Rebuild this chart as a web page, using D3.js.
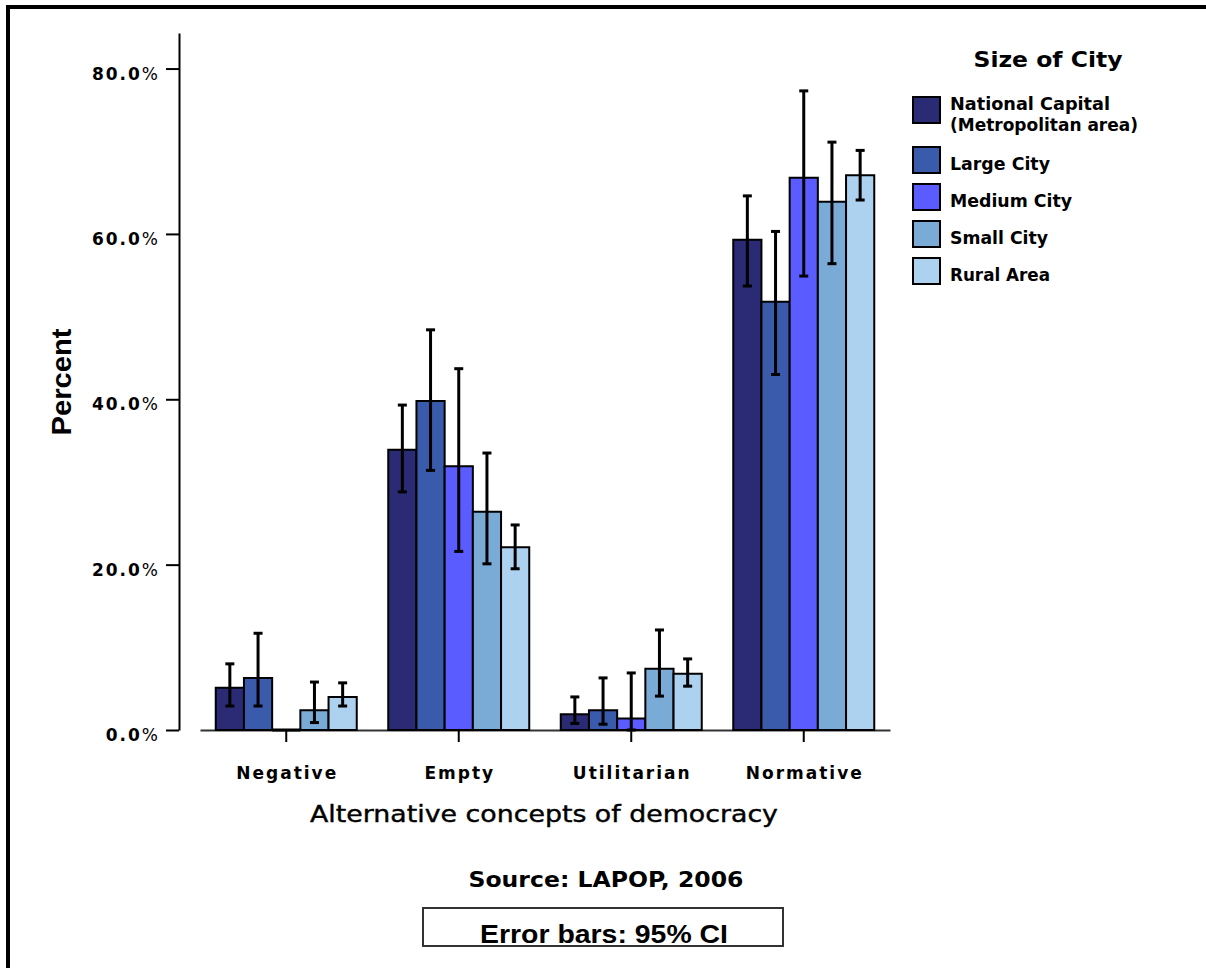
<!DOCTYPE html>
<html>
<head>
<meta charset="utf-8">
<script src="https://cdn.jsdelivr.net/npm/d3@7"></script>
<style>
  html, body { margin: 0; padding: 0; background: #ffffff; }
  svg { display: block; }
</style>
</head>
<body>
<svg id="chart" width="1206" height="968"></svg>
<script>
// Concepts of democracy by size of city (LAPOP 2006), percent with 95% CI
const categories = ["Negative", "Empty", "Utilitarian", "Normative"];
const seriesNames = ["National Capital (Metropolitan area)", "Large City", "Medium City", "Small City", "Rural Area"];
const seriesColors = ["#2b2a74", "#3a5aab", "#5b5cff", "#7aaad6", "#add2ef"];

const nationalCapital = [5.1, 33.9, 1.9, 59.3];
const largeCity       = [6.3, 39.8, 2.4, 51.8];
const mediumCity      = [0.0, 31.9, 1.4, 66.8];
const smallCity       = [2.4, 26.4, 7.4, 63.9];
const ruralArea       = [4.0, 22.1, 6.8, 67.1];

// 95% confidence interval bounds (null where no interval is shown)
const nationalCapitalLow  = [2.9, 28.8, 0.8, 53.7];
const nationalCapitalHigh = [8.0, 39.3, 4.0, 64.6];
const largeCityLow        = [2.9, 31.4, 0.7, 43.0];
const largeCityHigh       = [11.7, 48.4, 6.3, 60.3];
const mediumCityLow       = [null, 21.6, 0.0, 54.9];
const mediumCityHigh      = [null, 43.7, 6.9, 77.3];
const smallCityLow        = [0.9, 20.1, 4.1, 56.4];
const smallCityHigh       = [5.8, 33.5, 12.1, 71.1];
const ruralAreaLow        = [2.9, 19.5, 5.3, 64.1];
const ruralAreaHigh       = [5.7, 24.8, 8.6, 70.1];

const yTicks = [0, 20, 40, 60, 80];

const seriesValues = [nationalCapital, largeCity, mediumCity, smallCity, ruralArea];
const seriesLow = [nationalCapitalLow, largeCityLow, mediumCityLow, smallCityLow, ruralAreaLow];
const seriesHigh = [nationalCapitalHigh, largeCityHigh, mediumCityHigh, smallCityHigh, ruralAreaHigh];

const rows = [];
categories.forEach((c, ci) => {
  seriesNames.forEach((s, si) => {
    rows.push({
      category: c, series: s, si: si,
      value: seriesValues[si][ci],
      low: seriesLow[si][ci],
      high: seriesHigh[si][ci]
    });
  });
});

const svg = d3.select("#chart");
const WIDE = "'DejaVu Sans', Verdana, sans-serif";
const ARIAL = "'Liberation Sans', Arial, sans-serif";
const NARROW = "'Liberation Sans Narrow', 'Arial Narrow', 'DejaVu Sans Condensed', sans-serif";

// page frame (top and left rules)
svg.append("path")
  .attr("d", "M8,968 V7 H1206")
  .attr("fill", "none")
  .attr("stroke", "#000")
  .attr("stroke-width", 4);

// scales
const x0 = d3.scaleBand().domain(categories).range([200, 890]).paddingInner(0.1826).paddingOuter(0.0913);
const x1 = d3.scaleBand().domain(seriesNames).range([0, x0.bandwidth()]);
const y = d3.scaleLinear().domain([0, 84.3]).range([730, 33]);
const color = d3.scaleOrdinal().domain(seriesNames).range(seriesColors);

// y axis
const yAxis = svg.append("g")
  .attr("transform", "translate(179,0)")
  .call(d3.axisLeft(y).tickValues(yTicks).tickSize(13).tickSizeOuter(0).tickPadding(6));
yAxis.select(".domain").attr("stroke", "#000").attr("stroke-width", 2);
yAxis.selectAll(".tick line").attr("stroke", "#000").attr("stroke-width", 2);
yAxis.selectAll(".tick text")
  .attr("dy", "0.62em")
  .style("font-family", WIDE)
  .style("font-size", "17px")
  .style("letter-spacing", "2px")
  .attr("fill", "#000")
  .each(function(d) {
    const t = d3.select(this).text("");
    t.append("tspan").style("font-weight", "bold").text(d3.format(".1f")(d));
    t.append("tspan").style("font-weight", "normal").text("%");
  });

// x axis
const xAxis = svg.append("g")
  .attr("transform", "translate(0,730)")
  .call(d3.axisBottom(x0).tickSize(12).tickSizeOuter(0).tickPadding(25));
xAxis.select(".domain").attr("stroke", "#333").attr("stroke-width", 2);
xAxis.selectAll(".tick line").attr("stroke", "#000").attr("stroke-width", 2);
xAxis.selectAll(".tick text")
  .attr("y", 37)
  .attr("dx", "1px")
  .style("font-family", WIDE)
  .style("font-weight", "bold")
  .style("font-size", "17px")
  .style("letter-spacing", "2px")
  .attr("fill", "#000");

// bars, drawn as closed outlines so a zero value still shows as a rule on the baseline
const bars = svg.append("g");
bars.selectAll("path")
  .data(rows)
  .join("path")
  .attr("d", d => {
    const bx = x0(d.category) + x1(d.series);
    const w = x1.bandwidth();
    return `M${bx},${y(0)}H${bx + w}V${y(d.value)}H${bx}Z`;
  })
  .attr("fill", d => color(d.series))
  .attr("stroke", "#000")
  .attr("stroke-width", d => d.value === 0 ? 3 : 2);

// error bars
const errs = svg.append("g").attr("stroke", "#000");
const withCI = rows.filter(d => d.low !== null && d.high !== null);
const cx = d => x0(d.category) + x1(d.series) + x1.bandwidth() / 2;
errs.selectAll("line.stem")
  .data(withCI)
  .join("line")
  .attr("class", "stem")
  .attr("x1", cx).attr("x2", cx)
  .attr("y1", d => y(d.low)).attr("y2", d => y(d.high))
  .attr("stroke-width", 3);
errs.selectAll("line.capHigh")
  .data(withCI)
  .join("line")
  .attr("class", "capHigh")
  .attr("x1", d => cx(d) - 4.5).attr("x2", d => cx(d) + 4.5)
  .attr("y1", d => y(d.high)).attr("y2", d => y(d.high))
  .attr("stroke-width", 3);
errs.selectAll("line.capLow")
  .data(withCI)
  .join("line")
  .attr("class", "capLow")
  .attr("x1", d => cx(d) - 4.5).attr("x2", d => cx(d) + 4.5)
  .attr("y1", d => y(d.low)).attr("y2", d => y(d.low))
  .attr("stroke-width", 3);

// axis titles
svg.append("text")
  .attr("transform", "translate(71,382) rotate(-90)")
  .attr("text-anchor", "middle")
  .attr("textLength", 107)
  .attr("lengthAdjust", "spacingAndGlyphs")
  .style("font-family", ARIAL)
  .style("font-weight", "bold")
  .style("font-size", "28px")
  .text("Percent");

svg.append("text")
  .attr("x", 544).attr("y", 822)
  .attr("text-anchor", "middle")
  .attr("textLength", 468)
  .attr("lengthAdjust", "spacingAndGlyphs")
  .style("font-family", WIDE)
  .style("font-size", "23px")
  .attr("fill", "#000")
  .attr("stroke", "#000")
  .attr("stroke-width", 0.4)
  .text("Alternative concepts of democracy");

// legend
const legend = svg.append("g");
legend.append("text")
  .attr("x", 1048).attr("y", 67)
  .attr("text-anchor", "middle")
  .attr("textLength", 149)
  .attr("lengthAdjust", "spacingAndGlyphs")
  .style("font-family", WIDE)
  .style("font-weight", "bold")
  .style("font-size", "21px")
  .text("Size of City");

const legendLines = seriesNames.map(s => s.includes(" (") ? [s.slice(0, s.indexOf(" (")), s.slice(s.indexOf(" (") + 1)] : [s]);
const legendWidths = [[160, 188], [100], [122], [98], [100]];
let rowTop = 97;
legendLines.forEach((lines, i) => {
  const swH = 26;
  const center = rowTop + swH / 2;
  legend.append("rect")
    .attr("x", 913).attr("y", rowTop)
    .attr("width", 27).attr("height", swH)
    .attr("fill", seriesColors[i])
    .attr("stroke", "#000")
    .attr("stroke-width", 2);
  lines.forEach((ln, k) => {
    legend.append("text")
      .attr("x", 950)
      .attr("y", center - (lines.length - 1) * 10.5 + 10 + k * 21)
      .attr("textLength", legendWidths[i][k])
      .attr("lengthAdjust", "spacingAndGlyphs")
      .style("font-family", NARROW)
      .style("font-weight", "bold")
      .style("font-size", "18px")
      .text(ln);
  });
  rowTop += lines.length > 1 ? 50 : 37;
});

// source note and error bar box
svg.append("text")
  .attr("x", 606).attr("y", 887)
  .attr("text-anchor", "middle")
  .attr("textLength", 275)
  .attr("lengthAdjust", "spacingAndGlyphs")
  .style("font-family", WIDE)
  .style("font-weight", "bold")
  .style("font-size", "21px")
  .text("Source: LAPOP, 2006");

svg.append("rect")
  .attr("x", 423).attr("y", 908)
  .attr("width", 360).attr("height", 38)
  .attr("fill", "#fff")
  .attr("stroke", "#333")
  .attr("stroke-width", 2);

svg.append("text")
  .attr("x", 604).attr("y", 943)
  .attr("text-anchor", "middle")
  .attr("textLength", 248)
  .attr("lengthAdjust", "spacingAndGlyphs")
  .style("font-family", ARIAL)
  .style("font-weight", "bold")
  .style("font-size", "26px")
  .text("Error bars: 95% CI");
</script>
</body>
</html>
